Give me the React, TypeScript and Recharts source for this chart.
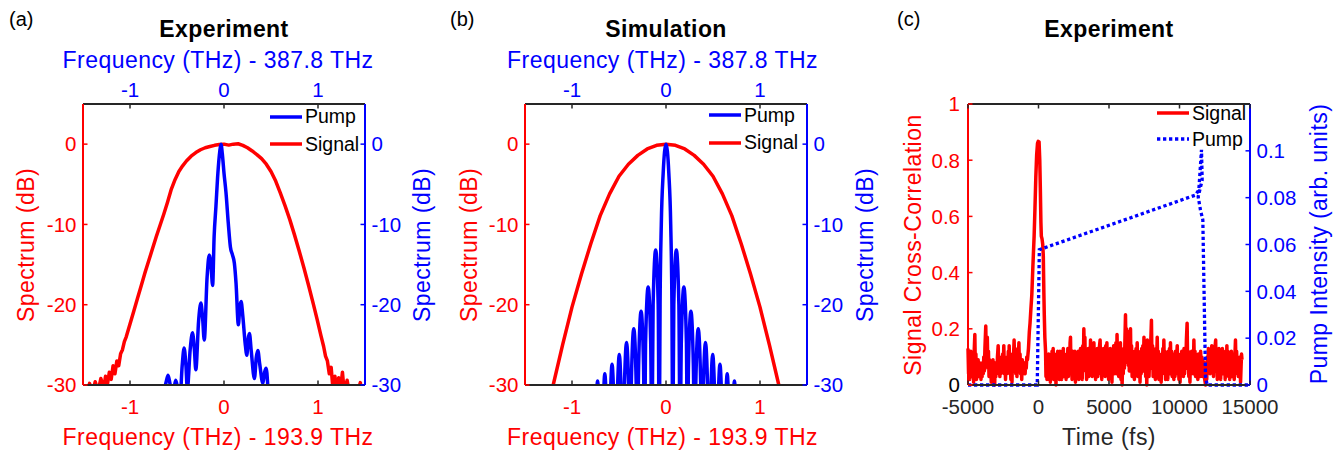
import { LineChart, Line, XAxis, YAxis, Legend } from 'recharts'

const FONT = '"Liberation Sans", Arial, Helvetica, sans-serif'
const RED = '#ff0000'
const BLUE = '#0000ff'
const AXIS = '#262626'

// (a) measured spectra: [frequency offset (THz), dB]
const expSignalSpec: [number, number][] = [
  [-1.46, -31.5], [-1.43, -29.8], [-1.4, -31.0], [-1.37, -29.6], [-1.34, -30.8], [-1.31, -29.2],
  [-1.28, -30.4], [-1.26, -28.9], [-1.24, -29.9], [-1.22, -28.4], [-1.2, -29.3], [-1.18, -27.6],
  [-1.16, -28.6], [-1.14, -27.0], [-1.12, -27.6], [-1.1, -26.1], [-1.08, -25.6], [-1.06, -24.6],
  [-1.04, -24.0], [-1.0, -22.4], [-0.96, -20.8], [-0.92, -19.2], [-0.88, -17.6], [-0.84, -16.0],
  [-0.8, -14.5], [-0.76, -13.0], [-0.72, -11.5], [-0.68, -10.1], [-0.64, -8.7], [-0.6, -7.2],
  [-0.56, -5.6], [-0.52, -4.4], [-0.48, -3.4], [-0.44, -2.7], [-0.4, -2.1], [-0.35, -1.5],
  [-0.3, -1.05], [-0.25, -0.7], [-0.2, -0.45], [-0.15, -0.3], [-0.1, -0.15], [-0.05, -0.05],
  [0, 0], [0.05, -0.12], [0.1, 0], [0.15, 0.05], [0.2, -0.15], [0.25, -0.45], [0.3, -0.85],
  [0.35, -1.3], [0.4, -1.8], [0.45, -2.5], [0.5, -3.4], [0.55, -4.6], [0.6, -6.1], [0.65, -7.7],
  [0.7, -9.4], [0.75, -11.3], [0.8, -13.3], [0.85, -15.4], [0.9, -17.6], [0.95, -19.9],
  [0.99, -21.8], [1.03, -23.8], [1.06, -25.2], [1.08, -26.4], [1.1, -27.0], [1.12, -28.6],
  [1.14, -27.8], [1.16, -30.6], [1.18, -28.9], [1.2, -31.0], [1.22, -29.1], [1.24, -30.5],
  [1.26, -28.4], [1.28, -31.0], [1.31, -29.4], [1.34, -31.5], [1.37, -30.2], [1.41, -31.5],
  [1.45, -29.7], [1.48, -32.0],
]

const expPumpSpec: [number, number][] = [
  [-0.68, -33], [-0.64, -31], [-0.615, -29.6], [-0.595, -28.8], [-0.575, -29.8], [-0.55, -31.5],
  [-0.53, -30.3], [-0.513, -29.4], [-0.49, -30.6], [-0.467, -31.5], [-0.445, -27.6], [-0.424, -25.4],
  [-0.405, -27.6], [-0.39, -30.5], [-0.36, -25.6], [-0.335, -23.5], [-0.315, -25.6], [-0.3, -28.1],
  [-0.27, -22.0], [-0.246, -19.8], [-0.228, -21.6], [-0.21, -24.4], [-0.18, -16.6], [-0.157, -13.8],
  [-0.138, -15.2], [-0.121, -17.6], [-0.105, -11.5], [-0.086, -7.8], [-0.065, -3.6], [-0.045, -0.9],
  [-0.032, 0], [-0.018, -1.2], [0, -3.6], [0.021, -6.0], [0.046, -9.9], [0.068, -12.8],
  [0.09, -13.8], [0.11, -14.8], [0.128, -17.3], [0.153, -22.5], [0.168, -20.3], [0.182, -19.6],
  [0.2, -21.4], [0.225, -24.8], [0.243, -26.3], [0.257, -24.3], [0.271, -23.6], [0.29, -25.8],
  [0.324, -29.2], [0.343, -26.6], [0.36, -25.7], [0.38, -27.4], [0.414, -29.8], [0.432, -28.4],
  [0.449, -27.9], [0.474, -31.5], [0.5, -34],
]

// (b) simulated spectra
const simSignalSpec: [number, number][] = [
  [-1.26, -33.5], [-1.2, -30.0], [-1.1, -25.0], [-1.0, -20.3], [-0.9, -16.2], [-0.8, -12.4],
  [-0.7, -8.9], [-0.6, -6.2], [-0.5, -4.0], [-0.4, -2.5], [-0.3, -1.4], [-0.2, -0.6], [-0.1, -0.15],
  [0, 0], [0.1, -0.15], [0.2, -0.6], [0.3, -1.4], [0.4, -2.5], [0.5, -4.0], [0.6, -6.2],
  [0.7, -8.9], [0.8, -12.4], [0.9, -16.2], [1.0, -20.3], [1.1, -25.0], [1.2, -30.0], [1.26, -33.5],
]

const simPumpSpec: [number, number][] = [
  [-0.8, -40], [-0.767, -38], [-0.754, -36.3], [-0.728, -29.5], [-0.702, -36.3], [-0.69, -38],
  [-0.677, -35.4], [-0.651, -28.6], [-0.625, -35.4], [-0.613, -38], [-0.6, -34.2], [-0.574, -27.4],
  [-0.548, -34.2], [-0.536, -38], [-0.523, -33.0], [-0.497, -26.2], [-0.471, -33.0], [-0.459, -38],
  [-0.446, -31.5], [-0.42, -24.7], [-0.394, -31.5], [-0.382, -38], [-0.369, -29.8], [-0.343, -23.0],
  [-0.317, -29.8], [-0.305, -38], [-0.291, -27.6], [-0.265, -20.8], [-0.239, -27.6], [-0.228, -38],
  [-0.217, -24.6], [-0.19, -17.8], [-0.163, -24.6], [-0.15, -38], [-0.137, -20.0], [-0.11, -13.2],
  [-0.083, -20.0], [-0.072, -38], [-0.063, -20], [-0.05, -10], [-0.03, -3.6], [0, 0],
  [0.03, -3.6], [0.05, -10], [0.063, -20], [0.072, -38], [0.083, -20.0], [0.11, -13.2],
  [0.137, -20.0], [0.15, -38], [0.163, -24.6], [0.19, -17.8], [0.217, -24.6], [0.228, -38],
  [0.239, -27.6], [0.265, -20.8], [0.291, -27.6], [0.305, -38], [0.317, -29.8], [0.343, -23.0],
  [0.369, -29.8], [0.382, -38], [0.394, -31.5], [0.42, -24.7], [0.446, -31.5], [0.459, -38],
  [0.471, -33.0], [0.497, -26.2], [0.523, -33.0], [0.536, -38], [0.548, -34.2], [0.574, -27.4],
  [0.6, -34.2], [0.613, -38], [0.625, -35.4], [0.651, -28.6], [0.677, -35.4], [0.69, -38],
  [0.702, -36.3], [0.728, -29.5], [0.754, -36.3], [0.767, -38], [0.8, -40],
]

// (c) cross-correlation: [time (fs), value]
const corrSignal: [number, number][] = [
  [-5000, 0.13], [-4960, 0.04], [-4920, 0.1], [-4880, 0.02], [-4840, 0.08], [-4800, 0.12],
  [-4760, 0.03], [-4720, 0.09], [-4680, 0.06], [-4640, 0.1], [-4600, 0.01], [-4560, 0.12],
  [-4515, 0.18], [-4480, 0.06], [-4440, 0.11], [-4400, 0.02], [-4360, 0.08], [-4320, 0.04],
  [-4280, 0.09], [-4240, 0.03], [-4200, 0.08], [-4160, 0.05], [-4120, 0.07], [-4080, 0.02],
  [-4040, 0.06], [-4000, 0.03], [-3960, 0.08], [-3920, 0.04], [-3880, 0.1], [-3840, 0.05],
  [-3800, 0.13], [-3740, 0.21], [-3700, 0.08], [-3660, 0.15], [-3630, 0.17], [-3590, 0.06],
  [-3550, 0.12], [-3510, 0.03], [-3470, 0.09], [-3430, 0.05], [-3390, 0.08], [-3350, 0.01],
  [-3310, 0.07], [-3270, 0.04], [-3230, 0.09], [-3190, 0.05], [-3150, 0.08], [-3110, 0.0],
  [-3070, 0.06], [-3030, 0.03], [-2990, 0.08], [-2950, 0.04], [-2910, 0.1], [-2860, 0.14],
  [-2820, 0.05], [-2780, 0.09], [-2740, 0.03], [-2700, 0.07], [-2660, 0.04], [-2620, 0.1],
  [-2580, 0.05], [-2540, 0.11], [-2500, 0.06], [-2460, 0.14], [-2420, 0.04], [-2380, 0.09],
  [-2340, 0.02], [-2300, 0.08], [-2260, 0.04], [-2220, 0.1], [-2180, 0.06], [-2140, 0.12],
  [-2100, 0.07], [-2080, 0.14], [-2040, 0.04], [-2000, 0.09], [-1960, 0.02], [-1920, 0.07],
  [-1880, 0.01], [-1840, 0.11], [-1800, 0.05], [-1760, 0.12], [-1730, 0.16], [-1690, 0.07],
  [-1650, 0.13], [-1610, 0.04], [-1570, 0.1], [-1530, 0.03], [-1490, 0.08], [-1450, 0.05],
  [-1410, 0.12], [-1390, 0.15], [-1350, 0.06], [-1310, 0.11], [-1270, 0.04], [-1230, 0.08],
  [-1190, 0.02], [-1150, 0.09], [-1110, 0.04], [-1070, 0.08], [-1030, 0.05], [-990, 0.07],
  [-950, 0.04], [-910, 0.08], [-870, 0.06], [-830, 0.1], [-780, 0.09], [-710, 0.13],
  [-650, 0.19], [-600, 0.22], [-540, 0.27], [-475, 0.32], [-400, 0.42], [-310, 0.53],
  [-250, 0.63], [-190, 0.74], [-130, 0.82], [-70, 0.86], [-20, 0.867], [40, 0.865], [90, 0.8],
  [130, 0.7], [170, 0.58], [200, 0.53], [250, 0.52], [300, 0.5], [340, 0.46], [380, 0.33],
  [410, 0.25], [450, 0.17], [500, 0.12], [530, 0.03], [560, 0.1], [600, 0.02], [640, 0.09],
  [680, 0.04], [720, 0.11], [760, 0.02], [800, 0.08], [840, 0.01], [880, 0.1], [920, 0.03],
  [960, 0.12], [1000, 0.04], [1040, 0.13], [1080, 0.02], [1120, 0.1], [1160, 0.05], [1200, 0.08],
  [1240, 0.0], [1280, 0.11], [1320, 0.03], [1360, 0.12], [1400, 0.04], [1440, 0.09], [1480, 0.02],
  [1520, 0.12], [1560, 0.05], [1600, 0.1], [1640, 0.02], [1680, 0.12], [1720, 0.04], [1760, 0.13],
  [1800, 0.03], [1840, 0.1], [1880, 0.05], [1920, 0.08], [1960, 0.02], [2000, 0.11], [2040, 0.04],
  [2080, 0.13], [2120, 0.03], [2160, 0.12], [2200, 0.05], [2240, 0.15], [2270, 0.17], [2300, 0.06],
  [2340, 0.1], [2380, 0.02], [2420, 0.12], [2460, 0.04], [2500, 0.09], [2540, 0.03], [2580, 0.12],
  [2620, 0.01], [2660, 0.08], [2700, 0.03], [2740, 0.1], [2780, 0.05], [2820, 0.12], [2860, 0.02],
  [2900, 0.11], [2940, 0.04], [2980, 0.13], [3020, 0.05], [3060, 0.1], [3100, 0.02], [3140, 0.14],
  [3180, 0.06], [3215, 0.2], [3250, 0.12], [3290, 0.17], [3330, 0.05], [3370, 0.12], [3410, 0.02],
  [3450, 0.1], [3490, 0.04], [3530, 0.13], [3570, 0.03], [3610, 0.11], [3650, 0.05], [3690, 0.16],
  [3730, 0.08], [3770, 0.14], [3810, 0.03], [3850, 0.12], [3890, 0.06], [3930, 0.15], [3970, 0.04],
  [4010, 0.12], [4050, 0.02], [4090, 0.1], [4130, 0.05], [4170, 0.13], [4210, 0.03], [4250, 0.11],
  [4290, 0.04], [4330, 0.14], [4370, 0.16], [4410, 0.06], [4450, 0.12], [4490, 0.02], [4530, 0.1],
  [4570, 0.04], [4610, 0.13], [4650, 0.05], [4690, 0.11], [4730, 0.03], [4770, 0.14], [4810, 0.06],
  [4850, 0.15], [4890, 0.04], [4930, 0.12], [4970, 0.02], [5010, 0.1], [5050, 0.05], [5090, 0.13],
  [5130, 0.03], [5170, 0.11], [5210, 0.01], [5250, 0.12], [5290, 0.05], [5330, 0.14], [5370, 0.04],
  [5410, 0.13], [5450, 0.06], [5490, 0.15], [5530, 0.04], [5570, 0.18], [5610, 0.07], [5650, 0.14],
  [5690, 0.03], [5730, 0.12], [5770, 0.05], [5810, 0.15], [5850, 0.02], [5890, 0.1], [5930, 0.0],
  [5970, 0.09], [6010, 0.04], [6050, 0.13], [6090, 0.06], [6130, 0.16], [6170, 0.25], [6200, 0.12],
  [6240, 0.2], [6280, 0.08], [6320, 0.19], [6360, 0.07], [6400, 0.16], [6440, 0.05], [6480, 0.15],
  [6525, 0.2], [6560, 0.06], [6600, 0.14], [6640, 0.03], [6680, 0.12], [6720, 0.05], [6760, 0.1],
  [6800, 0.02], [6840, 0.12], [6880, 0.04], [6920, 0.13], [6960, 0.06], [7000, 0.15], [7040, 0.03],
  [7080, 0.12], [7120, 0.05], [7160, 0.11], [7200, 0.01], [7240, 0.09], [7280, 0.04], [7320, 0.13],
  [7360, 0.05], [7400, 0.14], [7440, 0.07], [7480, 0.17], [7520, 0.05], [7560, 0.13], [7600, 0.03],
  [7640, 0.11], [7680, 0.0], [7720, 0.16], [7760, 0.05], [7800, 0.12], [7840, 0.03], [7880, 0.1],
  [7920, 0.06], [7960, 0.15], [8010, 0.23], [8050, 0.08], [8090, 0.14], [8130, 0.03], [8170, 0.12],
  [8210, 0.05], [8250, 0.1], [8290, 0.02], [8330, 0.13], [8370, 0.06], [8420, 0.17], [8460, 0.05],
  [8500, 0.12], [8540, 0.02], [8580, 0.1], [8620, 0.04], [8660, 0.08], [8700, 0.01], [8740, 0.11],
  [8780, 0.04], [8820, 0.13], [8860, 0.06], [8890, 0.16], [8930, 0.05], [8970, 0.12], [9010, 0.02],
  [9050, 0.11], [9090, 0.04], [9130, 0.09], [9170, 0.02], [9210, 0.12], [9250, 0.05], [9290, 0.13],
  [9330, 0.04], [9360, 0.15], [9400, 0.06], [9440, 0.12], [9480, 0.03], [9520, 0.11], [9560, 0.05],
  [9600, 0.02], [9640, 0.1], [9680, 0.03], [9720, 0.12], [9760, 0.05], [9800, 0.1], [9840, 0.14],
  [9880, 0.04], [9920, 0.11], [9960, 0.02], [10000, 0.09], [10040, 0.01], [10080, 0.1], [10120, 0.04],
  [10160, 0.12], [10200, 0.05], [10240, 0.11], [10280, 0.03], [10320, 0.13], [10360, 0.04],
  [10400, 0.1], [10440, 0.06], [10490, 0.16], [10540, 0.22], [10580, 0.07], [10620, 0.12],
  [10660, 0.03], [10700, 0.09], [10740, 0.01], [10780, 0.11], [10820, 0.04], [10860, 0.12],
  [10900, 0.05], [10940, 0.1], [10980, 0.04], [11020, 0.16], [11060, 0.06], [11100, 0.12],
  [11140, 0.03], [11180, 0.1], [11220, 0.05], [11260, 0.09], [11300, 0.02], [11340, 0.11],
  [11380, 0.04], [11420, 0.1], [11460, 0.03], [11500, 0.12], [11540, 0.05], [11580, 0.1],
  [11620, 0.03], [11660, 0.09], [11700, 0.04], [11740, 0.08], [11790, 0.02], [11850, 0.0],
  [11890, 0.06], [11930, 0.02], [11970, 0.1], [12010, 0.05], [12050, 0.13], [12090, 0.07],
  [12130, 0.11], [12170, 0.04], [12210, 0.12], [12250, 0.06], [12290, 0.14], [12330, 0.05],
  [12370, 0.12], [12410, 0.03], [12450, 0.1], [12490, 0.06], [12530, 0.14], [12565, 0.16],
  [12600, 0.05], [12640, 0.11], [12680, 0.02], [12720, 0.1], [12760, 0.04], [12800, 0.13],
  [12840, 0.06], [12880, 0.1], [12920, 0.02], [12960, 0.11], [13000, 0.05], [13040, 0.13],
  [13080, 0.04], [13120, 0.12], [13160, 0.06], [13200, 0.1], [13240, 0.02], [13280, 0.11],
  [13320, 0.05], [13360, 0.14], [13400, 0.06], [13440, 0.12], [13480, 0.03], [13520, 0.1],
  [13560, 0.02], [13600, 0.09], [13640, 0.05], [13680, 0.12], [13720, 0.03], [13760, 0.1],
  [13800, 0.06], [13840, 0.11], [13880, 0.02], [13920, 0.09], [13970, 0.16], [14010, 0.05],
  [14050, 0.12], [14090, 0.04], [14130, 0.1], [14170, 0.03], [14210, 0.08], [14250, 0.05],
  [14290, 0.1], [14330, 0.01], [14370, 0.07], [14400, 0.11], [14430, 0.09],
]

const corrPump: [number, number][] = [
  [-5000, 0], [-90, 0], [60, 0.0578], [11135, 0.0811], [11371, 0.0833], [11560, 0.1004],
  [11608, 0.0875], [11324, 0.0804], [11489, 0.0747], [11655, 0.0705], [11844, 0.0036],
  [11962, 0], [15000, 0],
]

const freqTicks = [-1, 0, 1]
const dbTicks = [-30, -20, -10, 0]
const timeTicks = [-5000, 0, 5000, 10000, 15000]
const corrTicks = [0, 0.2, 0.4, 0.6, 0.8, 1]
const pumpTicks = [0, 0.02, 0.04, 0.06, 0.08, 0.1]

const toPts = (arr: [number, number][]) => arr.map(([x, y]) => ({ x, y }))

type Side = 'bottom' | 'top' | 'left' | 'right'
const TICK_LEN = 4.5
const TICK_FS = 20.5

function makeTick(side: Side, tickColor: string, labelColor: (v: number) => string, gap: number, showLabel = true) {
  return function TickMark(props: any) {
    const { x, y, payload } = props
    const v: number = payload.value
    let l = [x, y, x, y]
    let tx = x
    let ty = y
    let anchor: 'start' | 'middle' | 'end' = 'middle'
    if (side === 'bottom') { l = [x, y, x, y - TICK_LEN]; ty = y + gap }
    else if (side === 'top') { l = [x, y, x, y + TICK_LEN]; ty = y - gap }
    else if (side === 'left') { l = [x, y, x + TICK_LEN, y]; tx = x - gap; ty = y + 7.3; anchor = 'end' }
    else { l = [x, y, x - TICK_LEN, y]; tx = x + gap; ty = y + 7.3; anchor = 'start' }
    return (
      <g>
        <line x1={l[0]} y1={l[1]} x2={l[2]} y2={l[3]} stroke={tickColor} strokeWidth={1.5} />
        {showLabel && (
          <text x={tx} y={ty} textAnchor={anchor} fill={labelColor(v)} fontSize={TICK_FS} fontFamily={FONT}>
            {String(v)}
          </text>
        )}
      </g>
    )
  }
}

const always = (c: string) => () => c

interface LegendItem { name: string; color: string; dash?: string }

function LegendBox({ items, rowH }: { items: LegendItem[]; rowH: number }) {
  return (
    <div style={{ fontFamily: FONT, fontSize: 19.5, color: '#000' }}>
      {items.map(it => (
        <div key={it.name} style={{ display: 'flex', alignItems: 'center', height: rowH, whiteSpace: 'nowrap' }}>
          <svg width={35} height={10} style={{ display: 'block' }}>
            <line x1={0} y1={5} x2={32} y2={5} stroke={it.color} strokeWidth={3.5} strokeDasharray={it.dash} />
          </svg>
          <span>{it.name}</span>
        </div>
      ))}
    </div>
  )
}

const specLegend: LegendItem[] = [
  { name: 'Pump', color: BLUE },
  { name: 'Signal', color: RED },
]
const corrLegend: LegendItem[] = [
  { name: 'Signal', color: RED },
  { name: 'Pump', color: BLUE, dash: '3.3 2.7' },
]

interface SpecProps {
  left: number
  width: number
  leftW: number
  rightW: number
  signal: [number, number][]
  pump: [number, number][]
  legendLeft: number
  legendTop: number
}

function SpectrumPanel({ left, width, leftW, rightW, signal, pump, legendLeft, legendTop }: SpecProps) {
  return (
    <div style={{ position: 'absolute', left, top: 0, width, height: 451 }}>
      <LineChart width={width} height={451} margin={{ top: 0, right: 0, bottom: 0, left: 0 }}>
        <XAxis xAxisId="bottom" type="number" dataKey="x" domain={[-1.5, 1.5]} ticks={freqTicks} interval={0}
          height={66} allowDataOverflow axisLine={{ stroke: AXIS, strokeWidth: 2 }} tickLine={false}
          tickSize={0} tickMargin={0} tick={makeTick('bottom', AXIS, always(RED), 29)} />
        <XAxis xAxisId="top" orientation="top" type="number" dataKey="x" domain={[-1.5, 1.5]} ticks={freqTicks}
          interval={0} height={104} allowDataOverflow axisLine={{ stroke: AXIS, strokeWidth: 2 }} tickLine={false}
          tickSize={0} tickMargin={0} tick={makeTick('top', AXIS, always(BLUE), 7)} />
        <YAxis yAxisId="left" type="number" domain={[-30, 5]} ticks={dbTicks} interval={0} width={leftW}
          allowDataOverflow axisLine={{ stroke: RED, strokeWidth: 2 }} tickLine={false} tickSize={0}
          tickMargin={0} tick={makeTick('left', RED, always(RED), 6.5)} />
        <YAxis yAxisId="right" orientation="right" type="number" domain={[-30, 5]} ticks={dbTicks} interval={0}
          width={rightW} allowDataOverflow axisLine={{ stroke: BLUE, strokeWidth: 2 }} tickLine={false}
          tickSize={0} tickMargin={0} tick={makeTick('right', BLUE, always(BLUE), 6.5)} />
        <Line xAxisId="bottom" yAxisId="left" data={toPts(signal)} dataKey="y" name="Signal" type="linear"
          stroke={RED} strokeWidth={3.5} strokeLinejoin="round" dot={false} activeDot={false}
          isAnimationActive={false} />
        <Line xAxisId="top" yAxisId="right" data={toPts(pump)} dataKey="y" name="Pump" type="monotone"
          stroke={BLUE} strokeWidth={3.5} strokeLinejoin="round" dot={false} activeDot={false}
          isAnimationActive={false} />
        <Legend layout="vertical" align="center" verticalAlign="middle"
          wrapperStyle={{ left: legendLeft, top: legendTop, width: 110 }}
          content={() => <LegendBox items={specLegend} rowH={27.5} />} />
      </LineChart>
    </div>
  )
}

function CorrelationPanel() {
  return (
    <div style={{ position: 'absolute', left: 900, top: 0, width: 444, height: 451 }}>
      <LineChart width={444} height={451} margin={{ top: 0, right: 0, bottom: 0, left: 0 }}>
        <XAxis xAxisId="bottom" type="number" dataKey="x" domain={[-5000, 15000]} ticks={timeTicks} interval={0}
          height={66} axisLine={{ stroke: AXIS, strokeWidth: 2 }} tickLine={false} tickSize={0} tickMargin={0}
          tick={makeTick('bottom', AXIS, always(AXIS), 29)} />
        <XAxis xAxisId="top" orientation="top" type="number" dataKey="x" domain={[-5000, 15000]} ticks={timeTicks}
          interval={0} height={104} allowDataOverflow axisLine={{ stroke: AXIS, strokeWidth: 2 }} tickLine={false}
          tickSize={0} tickMargin={0} tick={makeTick('top', AXIS, always(AXIS), 7, false)} />
        <YAxis yAxisId="left" type="number" domain={[0, 1]} ticks={corrTicks} interval={0} width={68}
          axisLine={{ stroke: RED, strokeWidth: 2 }} tickLine={false} tickSize={0} tickMargin={0}
          tick={makeTick('left', RED, v => (v === 0 ? '#000' : RED), 8)} />
        <YAxis yAxisId="right" orientation="right" type="number" domain={[0, 0.12]} ticks={pumpTicks} interval={0}
          width={94} axisLine={{ stroke: BLUE, strokeWidth: 2 }} tickLine={false} tickSize={0} tickMargin={0}
          tick={makeTick('right', BLUE, always(BLUE), 6.5)} />
        <Line xAxisId="bottom" yAxisId="left" data={toPts(corrSignal)} dataKey="y" name="Signal" type="linear"
          stroke={RED} strokeWidth={3.5} strokeLinejoin="round" dot={false} activeDot={false}
          isAnimationActive={false} />
        <Line xAxisId="bottom" yAxisId="right" data={toPts(corrPump)} dataKey="y" name="Pump" type="linear"
          stroke={BLUE} strokeWidth={3.3} strokeDasharray="3.3 2.7" dot={false} activeDot={false}
          isAnimationActive={false} />
        <Legend layout="vertical" align="center" verticalAlign="middle"
          wrapperStyle={{ left: 257, top: 100, width: 110 }}
          content={() => <LegendBox items={corrLegend} rowH={26} />} />
      </LineChart>
    </div>
  )
}

function VText({ x, y, color, children }: { x: number; y: number; color: string; children: string }) {
  return (
    <text x={x} y={y} transform={`rotate(-90 ${x} ${y})`} textAnchor="middle" fill={color} fontSize={23}
      letterSpacing={0.45}>
      {children}
    </text>
  )
}

function Annotations() {
  const lbl = { fontSize: 23, letterSpacing: 0.45, textAnchor: 'middle' as const }
  const ttl = { fontSize: 23, fontWeight: 700, letterSpacing: 0.4, textAnchor: 'middle' as const, fill: '#000' }
  return (
    <svg width={1344} height={451} fontFamily={FONT}
      style={{ position: 'absolute', left: 0, top: 0, pointerEvents: 'none' }}>
      <text x={9} y={26} fontSize={20} fill="#000">(a)</text>
      <text x={450} y={26} fontSize={20} fill="#000">(b)</text>
      <text x={897} y={26} fontSize={20} fill="#000">(c)</text>

      <text x={224} y={36.5} {...ttl}>Experiment</text>
      <text x={666} y={36.5} {...ttl}>Simulation</text>
      <text x={1109} y={36.5} {...ttl}>Experiment</text>

      <text x={218} y={68.3} fill={BLUE} {...lbl}>Frequency (THz) - 387.8 THz</text>
      <text x={662.5} y={68.3} fill={BLUE} {...lbl}>Frequency (THz) - 387.8 THz</text>
      <text x={218} y={445} fill={RED} {...lbl}>Frequency (THz) - 193.9 THz</text>
      <text x={662.5} y={445} fill={RED} {...lbl}>Frequency (THz) - 193.9 THz</text>
      <text x={1109} y={445} fill={AXIS} {...lbl}>Time (fs)</text>

      <VText x={34} y={245} color={RED}>Spectrum (dB)</VText>
      <VText x={430} y={245} color={BLUE}>Spectrum (dB)</VText>
      <VText x={477.3} y={245} color={RED}>Spectrum (dB)</VText>
      <VText x={873} y={245} color={BLUE}>Spectrum (dB)</VText>
      <VText x={920.7} y={245} color={RED}>Signal Cross-Correlation</VText>
      <VText x={1326.7} y={244} color={BLUE}>Pump Intensity (arb. units)</VText>
    </svg>
  )
}

export default function App() {
  return (
    <div style={{ position: 'absolute', left: 0, top: 0, width: 1344, height: 451, background: '#fff', fontFamily: FONT }}>
      <SpectrumPanel left={0} width={450} leftW={83} rightW={85} signal={expSignalSpec} pump={expPumpSpec}
        legendLeft={270} legendTop={103} />
      <SpectrumPanel left={450} width={450} leftW={75} rightW={93} signal={simSignalSpec} pump={simPumpSpec}
        legendLeft={259} legendTop={101.3} />
      <CorrelationPanel />
      <Annotations />
    </div>
  )
}
